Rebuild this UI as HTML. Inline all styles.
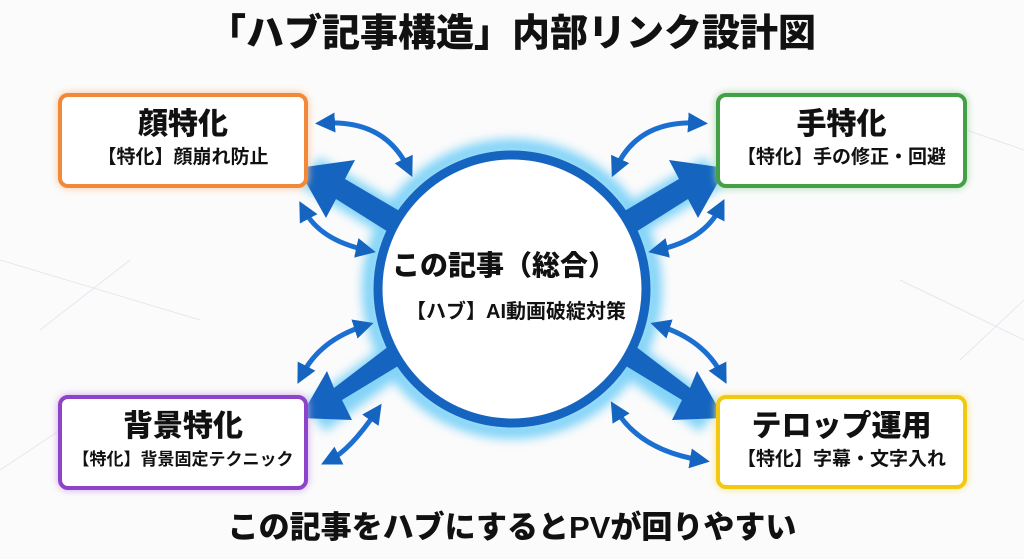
<!DOCTYPE html>
<html><head><meta charset="utf-8"><style>
html,body{margin:0;padding:0;background:#fbfbfb;}
body{width:1024px;height:559px;position:relative;overflow:hidden;font-family:"Liberation Sans","Noto Sans CJK JP",sans-serif;color:#111;}
.t{position:absolute;left:0;width:1024px;text-align:center;font-weight:900;white-space:nowrap;}
.box{position:absolute;background:#fff;border:4px solid;border-radius:10px;box-sizing:border-box;text-align:center;}
.box .h{font-weight:900;font-size:30px;margin-top:10px;line-height:36px;}
.box .s{font-weight:700;font-size:19px;line-height:24px;margin-top:3px;white-space:nowrap;}
</style></head><body>
<svg width="1024" height="559" style="position:absolute;left:0;top:0">
<defs>
<filter id="g" x="-50%" y="-50%" width="200%" height="200%"><feGaussianBlur stdDeviation="5"/></filter>
<marker id="a" markerWidth="4" markerHeight="4" refX="2" refY="2" orient="auto-start-reverse" markerUnits="strokeWidth"><path d="M0,0 L4,2 L0,4 Z" fill="#1565c0"/></marker>
</defs>
<g stroke="#dde3ee" stroke-width="1" fill="none" opacity="0.8">
<path d="M0,260 L200,320 M40,330 L130,260 M880,100 L1024,150 M960,360 L1024,300 M900,280 L1024,340 M0,470 L60,430"/>
</g>
<g filter="url(#g)" opacity="0.7">
<circle cx="512" cy="289" r="142" fill="none" stroke="#4fc3f7" stroke-width="16"/>
<path d="M400,225 L310,172 M624,225 L714,172 M400,355 L315,418 M624,355 L710,418" stroke="#4fc3f7" stroke-width="34"/>
</g>
<g fill="#1565c0">
<polygon points="403,213 345,179 355,160 298,168 326,218 336,199 393,235"/>
<polygon points="621,213 679,179 669,160 726,168 698,218 688,199 631,235"/>
<polygon points="403,363 342,400 352,420 300,418 327,371 334,388 393,343"/>
<polygon points="621,363 682,400 672,420 724,418 697,371 690,388 631,343"/>
</g>
<g fill="none" stroke="#1a6fd0" stroke-width="5" marker-start="url(#a)" marker-end="url(#a)">
<path d="M325,123 Q385,120 408,168"/>
<path d="M304,210 Q320,240 366,250"/>
<path d="M698,123 Q638,120 616,168"/>
<path d="M720,208 Q704,240 658,250"/>
<path d="M364,326 Q320,340 302,375"/>
<path d="M376,412 Q350,450 330,460"/>
<path d="M660,326 Q704,340 722,375"/>
<path d="M616,410 Q640,450 700,460"/>
</g>
<circle cx="512" cy="289" r="134" fill="#fff" stroke="#1565c0" stroke-width="9"/>
</svg>
<div class="t" style="top:11px;font-size:38px;line-height:46px;left:0px;">「ハブ記事構造」内部リンク設計図</div>
<div class="t" style="top:508px;font-size:31px;line-height:40px;">この記事をハブにするとPVが回りやすい</div>
<div class="t" style="top:248px;font-size:28px;line-height:36px;left:-8px;">この記事（総合）</div>
<div class="t" style="top:299px;font-size:20px;line-height:26px;font-weight:700;left:4px;">【ハブ】AI動画破綻対策</div>
<div class="box" style="left:58px;top:93px;width:250px;height:95px;border-color:#f08a3a;box-shadow:0 0 8px #f8c49a;"><div class="h">顔特化</div><div class="s">【特化】顔崩れ防止</div></div>
<div class="box" style="left:716px;top:93px;width:251px;height:95px;border-color:#43a047;box-shadow:0 0 8px #a5d6a7;"><div class="h">手特化</div><div class="s">【特化】手の修正・回避</div></div>
<div class="box" style="left:58px;top:395px;width:250px;height:95px;border-color:#8e44c9;box-shadow:0 0 8px #cfa8ec;"><div class="h">背景特化</div><div class="s" style="font-size:17px">【特化】背景固定テクニック</div></div>
<div class="box" style="left:716px;top:395px;width:251px;height:94px;border-color:#f2c811;box-shadow:0 0 8px #f7e38a;"><div class="h">テロップ運用</div><div class="s">【特化】字幕・文字入れ</div></div>
</body></html>
